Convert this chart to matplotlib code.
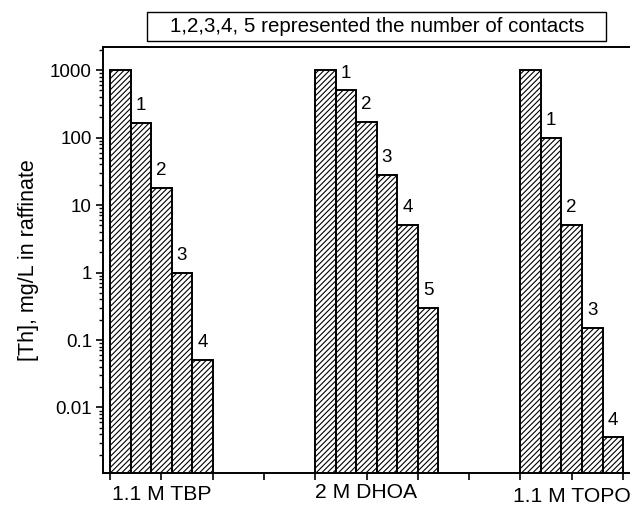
import numpy as np
import matplotlib
matplotlib.use("Agg")
import matplotlib.pyplot as plt
from matplotlib.ticker import LogLocator, FixedLocator, FuncFormatter
from matplotlib.patches import Rectangle
import matplotlib.transforms as mtransforms

# data
group_names = ["1.1 M TBP", "2 M DHOA", "1.1 M TOPO"]
tbp = [1000, 165, 18, 1.0, 0.05]
dhoa = [1000, 500, 168, 28, 5.0, 0.3]
topo = [1000, 100, 5.0, 0.15, 0.0036]
note = "1,2,3,4, 5 represented the number of contacts"
ylabel = "[Th], mg/L in raffinate"

plt.rcParams['font.family'] = ['Liberation Sans', 'DejaVu Sans']
plt.rcParams['hatch.linewidth'] = 0.8

fig = plt.figure(figsize=(6.3, 5.05), dpi=100)
ax = fig.add_axes([0.1635, 0.0634, 0.8365, 0.8436])

group_start = [0, 10, 20]
for start, vals in zip(group_start, [tbp, dhoa, topo]):
    xs = start + np.arange(len(vals))
    ax.bar(xs, vals, width=1.0, align='edge', bottom=1e-4, color='white',
           edgecolor='black', linewidth=1.4, hatch='//////')
    for i in range(1, len(vals)):
        ax.annotate(str(i), (xs[i] + 0.5, vals[i]), xytext=(0, 12.5),
                    textcoords='offset points', ha='center', va='center',
                    fontsize=13.5)

ax.set_yscale('log')
ax.set_ylim(0.00107, 2200)
ax.set_xlim(-0.34, 25.34)

ax.yaxis.set_major_locator(FixedLocator([0.01, 0.1, 1, 10, 100, 1000]))
ax.yaxis.set_major_formatter(FuncFormatter(lambda v, p: '%g' % v))
ax.yaxis.set_minor_locator(LogLocator(base=10, subs=np.arange(2, 10), numticks=20))
ax.tick_params(axis='y', which='major', direction='out', length=5, width=1.2,
               labelsize=13.5, pad=3)
ax.tick_params(axis='y', which='minor', direction='out', length=3, width=1.0)

ax.set_xticks(np.arange(0, 25.1, 2.5))
ax.set_xticklabels([])
ax.tick_params(axis='x', which='major', direction='out', length=5, width=1.2)
ax.tick_params(axis='x', which='minor', bottom=False)

for s in ['left', 'bottom', 'top']:
    ax.spines[s].set_linewidth(1.4)
ax.spines['right'].set_visible(False)

ax.set_ylabel(ylabel, fontsize=15.5, labelpad=8)

trans = mtransforms.blended_transform_factory(ax.transData, fig.transFigure)
label_y = [0.021, 0.025, 0.017]
for name, start, yy in zip(group_names, group_start, label_y):
    ax.text(start + 2.5, yy, name, transform=trans, ha='center', va='center',
            fontsize=15.2)

# note box
fig.patches.append(Rectangle((147 / 630, 1 - 41 / 505), 459 / 630, 29 / 505,
                             transform=fig.transFigure, facecolor='white',
                             edgecolor='black', linewidth=1.0))
fig.text(0.598, 0.9475, note, ha='center', va='center', fontsize=14.8)

fig.savefig("out.png", dpi=100)
